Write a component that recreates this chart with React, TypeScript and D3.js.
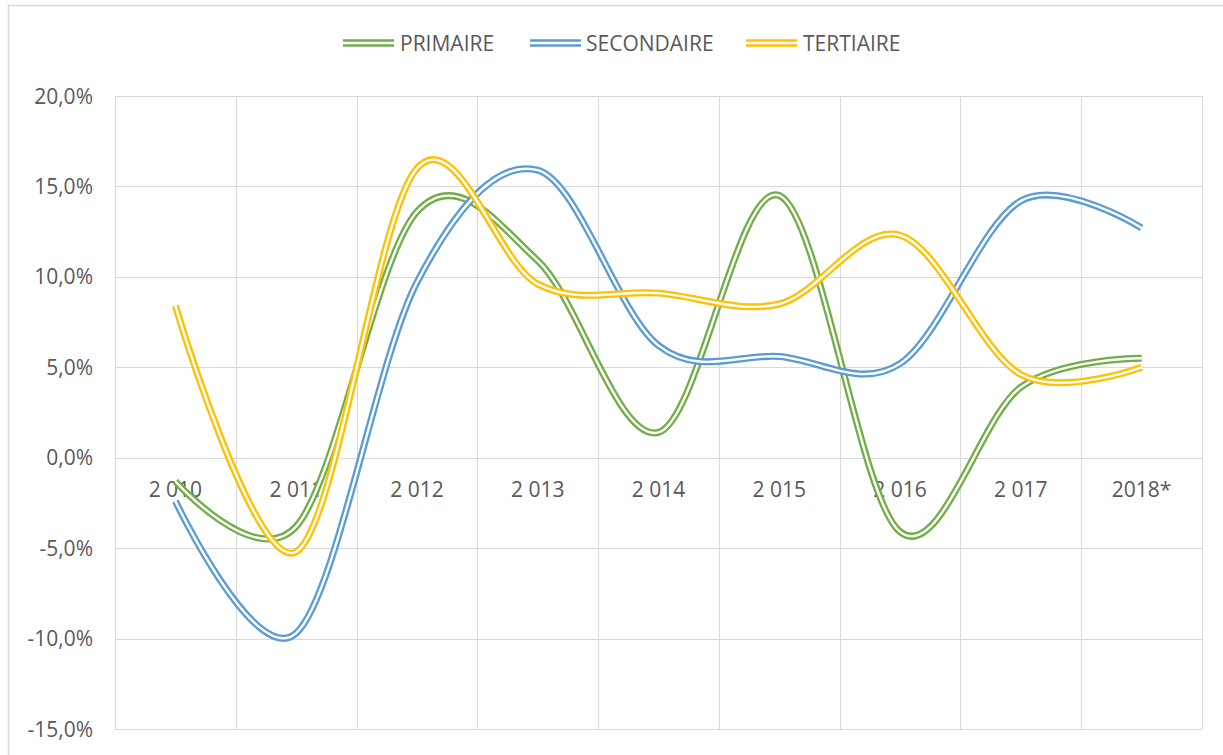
import React from "react";
import * as d3 from "d3";

const categories = ["2 010", "2 011", "2 012", "2 013", "2 014", "2 015", "2 016", "2 017", "2018*"];
const primaire = [-1.3, -3.8, 13.6, 10.9, 1.4, 14.5, -4.1, 3.9, 5.5];
const secondaire = [-2.4, -9.7, 9.7, 15.9, 6.2, 5.6, 5.2, 14.2, 12.7];
const tertiaire = [8.4, -5.2, 16.0, 9.6, 9.1, 8.5, 12.3, 4.6, 5.0];
const yTicks = [20, 15, 10, 5, 0, -5, -10, -15];
const seriesNames = ["PRIMAIRE", "SECONDAIRE", "TERTIAIRE"];
const seriesColors = ["#70AD47", "#5B9BD5", "#FFC000"];

const W = 1223;
const H = 755;
const left = 115;
const right = 1202;
const top = 96;
const bottom = 729;
const font = "'Open Sans', 'Noto Sans', sans-serif";
const textColor = "#595959";
const gridColor = "#d9d9d9";

export default function App() {
  const series = [primaire, secondaire, tertiaire];
  const x = d3.scalePoint<string>().domain(categories).range([left, right]).padding(0.5);
  const step = x.step();
  const y = d3.scaleLinear().domain([-15, 20]).range([bottom, top]);
  const line = d3
    .line<number>()
    .x((_, i) => x(categories[i]) as number)
    .y((d) => y(d))
    .curve(d3.curveCardinal.tension(0));

  const legendItems = [
    { lx: 343, tx: 400 },
    { lx: 530, tx: 586 },
    { lx: 746, tx: 803 },
  ];
  const legendY = 43;

  return (
    <svg
      width={W}
      height={H}
      style={{ position: "absolute", left: 0, top: 0, background: "#fff" }}
    >
      <rect x={8.5} y={5.5} width={1300} height={900} fill="#fff" stroke={gridColor} strokeWidth={1.5} />
      {yTicks.map((t) => (
        <line
          key={"h" + t}
          x1={left}
          x2={right}
          y1={Math.round(y(t)) + 0.5}
          y2={Math.round(y(t)) + 0.5}
          stroke={gridColor}
          strokeWidth={1}
        />
      ))}
      {d3.range(categories.length + 1).map((i) => {
        const gx = Math.round(left + i * step) + 0.5;
        return <line key={"v" + i} x1={gx} x2={gx} y1={top} y2={bottom} stroke={gridColor} strokeWidth={1} />;
      })}
      {yTicks.map((t) => (
        <text
          key={"yl" + t}
          x={93}
          y={y(t)}
          dy="0.36em"
          textAnchor="end"
          fontFamily={font}
          fontSize={21}
          fill={textColor}
        >
          {t.toFixed(1).replace(".", ",") + "%"}
        </text>
      ))}
      {categories.map((c) => (
        <text
          key={"xl" + c}
          x={x(c)}
          y={y(0) + 39}
          textAnchor="middle"
          fontFamily={font}
          fontSize={21}
          fill={textColor}
        >
          {c}
        </text>
      ))}
      {series.map((s, i) => (
        <g key={"s" + i}>
          <path d={line(s) || ""} fill="none" stroke={seriesColors[i]} strokeWidth={7} />
          <path d={line(s) || ""} fill="none" stroke="#fff" strokeWidth={2.4} />
        </g>
      ))}
      {seriesNames.map((n, i) => (
        <g key={"lg" + i}>
          <line x1={legendItems[i].lx} x2={legendItems[i].lx + 51} y1={legendY} y2={legendY} stroke={seriesColors[i]} strokeWidth={7.5} />
          <line x1={legendItems[i].lx} x2={legendItems[i].lx + 51} y1={legendY} y2={legendY} stroke="#fff" strokeWidth={2.4} />
          <text x={legendItems[i].tx} y={legendY} dy="0.36em" fontFamily={font} fontSize={21} fill={textColor}>
            {n}
          </text>
        </g>
      ))}
    </svg>
  );
}
